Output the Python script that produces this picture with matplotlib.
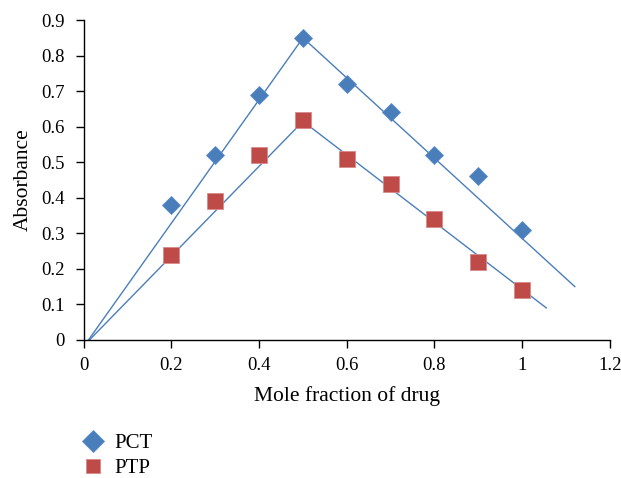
import matplotlib
matplotlib.use('Agg')
import matplotlib.pyplot as plt
from matplotlib.lines import Line2D

# --- Data ---
mole_frac = [0.2, 0.3, 0.4, 0.5, 0.6, 0.7, 0.8, 0.9, 1.0]
pct_abs = [0.38, 0.52, 0.69, 0.85, 0.72, 0.64, 0.52, 0.46, 0.31]
ptp_abs = [0.24, 0.39, 0.52, 0.62, 0.51, 0.44, 0.34, 0.22, 0.14]

# fitted lines (rise / fall)
pct_fit_x = [0.005, 0.5, 1.12]
pct_fit_y = [-0.01, 0.85, 0.15]
ptp_fit_x = [0.005, 0.5, 1.055]
ptp_fit_y = [-0.01, 0.615, 0.09]

xticks = [0, 0.2, 0.4, 0.6, 0.8, 1, 1.2]
yticks = [0, 0.1, 0.2, 0.3, 0.4, 0.5, 0.6, 0.7, 0.8, 0.9]

BLUE = "#4a7ebb"
RED = "#be4b48"

plt.rcParams.update({
    "font.family": ["Liberation Serif", "DejaVu Serif"],
    "font.size": 13.5,
})

fig = plt.figure(figsize=(6.21, 4.78), dpi=100)
ax = fig.add_axes([0.135, 0.289, 0.847, 0.669])

ax.plot(pct_fit_x, pct_fit_y, color=BLUE, lw=1.0, zorder=2)
ax.plot(ptp_fit_x, ptp_fit_y, color=BLUE, lw=1.0, zorder=2)
ax.plot(mole_frac, pct_abs, ls="none", marker="D", ms=9, color=BLUE,
        mec="#5a8ccc", mew=0.6, zorder=3)
ax.plot(mole_frac, ptp_abs, ls="none", marker="s", ms=11, color=RED,
        mec="#d88a88", mew=0.6, zorder=3)

ax.set_xlim(0, 1.2)
ax.set_ylim(0, 0.9)
ax.set_xticks(xticks)
ax.set_xticklabels([f"{v:g}" for v in xticks])
ax.set_yticks(yticks)
ax.set_yticklabels([f"{v:g}" for v in yticks])
ax.tick_params(direction="out", length=6, width=1, colors="black", pad=6)
ax.tick_params(axis="y", pad=8)
for side in ("top", "right"):
    ax.spines[side].set_visible(False)
for side in ("left", "bottom"):
    ax.spines[side].set_linewidth(1)
ax.set_xlabel("Mole fraction of drug", fontsize=15.5, labelpad=9)
ax.set_ylabel("Absorbance", fontsize=15.5, labelpad=6)

handles = [
    Line2D([], [], ls="none", marker="D", ms=11.5, color=BLUE, mec="#5a8ccc", mew=0.6),
    Line2D([], [], ls="none", marker="s", ms=10.5, color=RED, mec="#d88a88", mew=0.6),
]
fig.legend(handles, ["PCT", "PTP"], loc="upper left", fontsize=15,
           bbox_to_anchor=(0.12, 0.11), frameon=False, handlelength=1.0,
           handletextpad=0.5, labelspacing=0.25, borderaxespad=0)

fig.savefig("out.png", dpi=100)
